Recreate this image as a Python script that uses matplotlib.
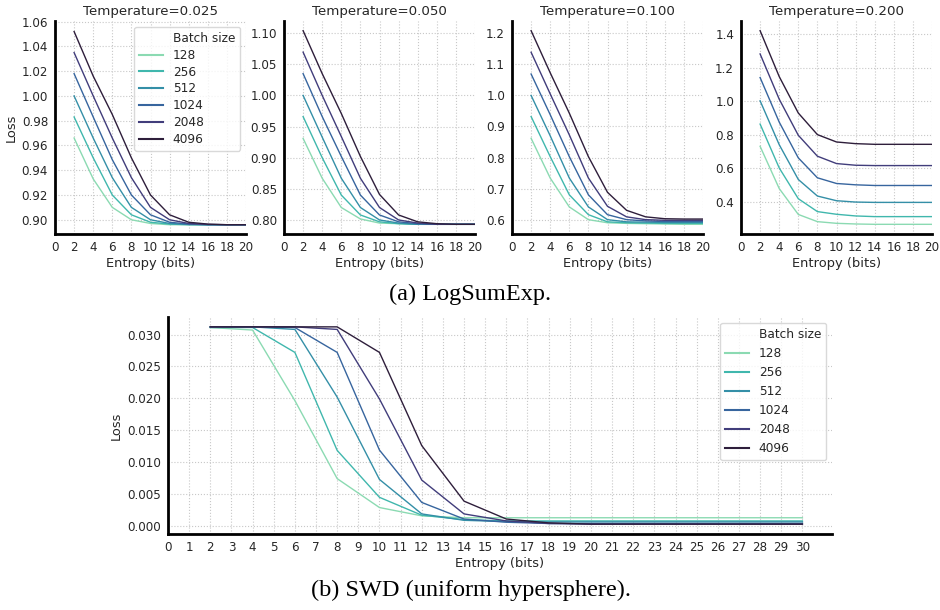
import matplotlib
matplotlib.use("Agg")
import matplotlib.pyplot as plt
from matplotlib.lines import Line2D
from matplotlib.ticker import MultipleLocator, FormatStrFormatter, FixedLocator
import seaborn as sns

# ---------------- data ----------------
batch_sizes = ["128", "256", "512", "1024", "2048", "4096"]
entropy_top = [2, 4, 6, 8, 10, 12, 14, 16, 18, 20]
temperatures = ["0.025", "0.050", "0.100", "0.200"]

loss_t0025 = [
    [0.966, 0.933, 0.910, 0.900, 0.897, 0.896, 0.896, 0.896, 0.896, 0.896],
    [0.983, 0.950, 0.920, 0.904, 0.898, 0.8965, 0.896, 0.896, 0.896, 0.896],
    [1.000, 0.966, 0.934, 0.910, 0.900, 0.897, 0.8962, 0.896, 0.896, 0.896],
    [1.018, 0.983, 0.9485, 0.920, 0.904, 0.898, 0.8965, 0.896, 0.896, 0.896],
    [1.035, 1.000, 0.966, 0.934, 0.910, 0.900, 0.897, 0.8962, 0.896, 0.896],
    [1.052, 1.016, 0.985, 0.950, 0.920, 0.904, 0.898, 0.8965, 0.896, 0.896],
]
loss_t0050 = [
    [0.931, 0.867, 0.820, 0.8016, 0.795, 0.794, 0.793, 0.793, 0.793, 0.793],
    [0.966, 0.900, 0.840, 0.808, 0.797, 0.794, 0.793, 0.793, 0.793, 0.793],
    [1.000, 0.933, 0.867, 0.820, 0.800, 0.795, 0.793, 0.793, 0.793, 0.793],
    [1.035, 0.966, 0.902, 0.840, 0.808, 0.797, 0.794, 0.793, 0.793, 0.793],
    [1.0695, 1.000, 0.934, 0.867, 0.820, 0.800, 0.795, 0.793, 0.793, 0.793],
    [1.104, 1.035, 0.971, 0.902, 0.841, 0.808, 0.797, 0.794, 0.793, 0.793],
]
loss_t0100 = [
    [0.862, 0.734, 0.641, 0.600, 0.590, 0.588, 0.587, 0.586, 0.585, 0.585],
    [0.932, 0.803, 0.680, 0.616, 0.593, 0.590, 0.589, 0.588, 0.588, 0.588],
    [1.000, 0.870, 0.734, 0.641, 0.600, 0.593, 0.592, 0.591, 0.591, 0.591],
    [1.069, 0.938, 0.803, 0.680, 0.616, 0.600, 0.596, 0.594, 0.594, 0.594],
    [1.139, 1.005, 0.873, 0.734, 0.643, 0.609, 0.600, 0.598, 0.598, 0.598],
    [1.2085, 1.073, 0.943, 0.803, 0.688, 0.630, 0.609, 0.603, 0.602, 0.602],
]
loss_t0200 = [
    [0.731, 0.479, 0.324, 0.281, 0.271, 0.267, 0.265, 0.265, 0.265, 0.265],
    [0.864, 0.602, 0.418, 0.341, 0.325, 0.315, 0.311, 0.311, 0.311, 0.311],
    [1.003, 0.741, 0.533, 0.434, 0.406, 0.398, 0.396, 0.396, 0.396, 0.396],
    [1.142, 0.876, 0.662, 0.543, 0.509, 0.501, 0.497, 0.497, 0.497, 0.497],
    [1.283, 1.013, 0.797, 0.672, 0.628, 0.618, 0.616, 0.616, 0.616, 0.616],
    [1.422, 1.148, 0.930, 0.801, 0.757, 0.747, 0.743, 0.743, 0.743, 0.743],
]
top_losses = [loss_t0025, loss_t0050, loss_t0100, loss_t0200]
top_ytick_steps = [0.02, 0.05, 0.1, 0.2]
top_ytick_fmt = ["%.2f", "%.2f", "%.1f", "%.1f"]

entropy_swd = [2, 4, 6, 8, 10, 12, 14, 16, 18, 20, 22, 24, 26, 28, 30]
swd_xticks = list(range(0, 31))
loss_swd = [
    [0.0311, 0.0307, 0.01965, 0.00743, 0.0029, 0.0016, 0.0013, 0.0013, 0.0013, 0.0013, 0.0013, 0.0013, 0.0013, 0.0013, 0.0013],
    [0.0311, 0.0311, 0.0272, 0.01185, 0.0045, 0.0017, 0.0010, 0.0008, 0.0008, 0.0008, 0.0008, 0.0008, 0.0008, 0.0008, 0.0008],
    [0.0312, 0.0312, 0.0308, 0.0202, 0.0073, 0.0019, 0.0009, 0.0007, 0.00065, 0.00065, 0.00065, 0.00065, 0.00065, 0.00065, 0.00065],
    [0.0312, 0.0312, 0.0311, 0.0272, 0.0119, 0.0037, 0.0011, 0.0006, 0.0004, 0.0004, 0.0004, 0.0004, 0.0004, 0.0004, 0.0004],
    [0.0312, 0.0312, 0.0312, 0.0308, 0.0199, 0.0072, 0.0019, 0.0008, 0.0004, 0.0003, 0.0003, 0.0003, 0.0003, 0.0003, 0.0003],
    [0.0312, 0.0312, 0.0312, 0.0312, 0.0272, 0.0126, 0.0039, 0.0011, 0.0005, 0.0003, 0.0003, 0.0003, 0.0003, 0.0003, 0.0003],
]

# ---------------- style ----------------
colors = sns.color_palette("mako_r", 6)
plt.rcParams["font.family"] = ["DejaVu Sans"]
TICK_FS = 8.6
LABEL_FS = 9.4
TITLE_FS = 9.6
LEG_FS = 8.7
TXT = "#262626"

W, H = 940, 610
fig = plt.figure(figsize=(W / 100, H / 100), dpi=100)


def px_axes(left, top, right, bottom):
    return fig.add_axes([left / W, 1 - bottom / H, (right - left) / W, (bottom - top) / H])


def style_axes(ax):
    for s in ["top", "right"]:
        ax.spines[s].set_visible(False)
    for s in ["left", "bottom"]:
        ax.spines[s].set_linewidth(2.0)
        ax.spines[s].set_color("black")
    ax.grid(True, linestyle=":", color="#c8c8c8", linewidth=0.8)
    ax.set_axisbelow(True)
    ax.tick_params(axis="both", length=0, pad=5, labelsize=TICK_FS, labelcolor=TXT)


def add_legend(ax, spacing):
    handles = [Line2D([], [], color="none", label="Batch size")]
    handles += [Line2D([], [], color=colors[i], lw=1.5, label=b) for i, b in enumerate(batch_sizes)]
    leg = ax.legend(handles=handles, loc="upper right", fontsize=LEG_FS, frameon=True,
                    fancybox=True, framealpha=0.8, edgecolor="#d0d0d0",
                    labelspacing=spacing)
    for t in leg.get_texts():
        t.set_color(TXT)
    return leg


top_lefts = [55, 284, 512, 741]
panel_w = 191
for k, (left, losses) in enumerate(zip(top_lefts, top_losses)):
    ax = px_axes(left, 21, left + panel_w, 234)
    style_axes(ax)
    for i, b in enumerate(batch_sizes):
        ax.plot(entropy_top, losses[i], color=colors[i], lw=1.0)
    ax.set_xlim(0, 20)
    if k == 0:
        ax.set_ylim(0.8885, 1.0605)
    ax.xaxis.set_major_locator(MultipleLocator(2))
    ax.yaxis.set_major_locator(MultipleLocator(top_ytick_steps[k]))
    ax.yaxis.set_major_formatter(FormatStrFormatter(top_ytick_fmt[k]))
    ax.set_title("Temperature=" + temperatures[k], fontsize=TITLE_FS, color=TXT, pad=4)
    ax.set_xlabel("Entropy (bits)", fontsize=LABEL_FS, color=TXT, labelpad=2)
    if k == 0:
        ax.set_ylabel("Loss", fontsize=LABEL_FS, color=TXT, labelpad=3)
        add_legend(ax, 0.32)

axb = px_axes(168, 317, 832, 534)
style_axes(axb)
for i, b in enumerate(batch_sizes):
    axb.plot(entropy_swd, loss_swd[i], color=colors[i], lw=1.0)
axb.set_xlim(0, 31.4)
axb.xaxis.set_major_locator(FixedLocator(swd_xticks))
axb.yaxis.set_major_locator(MultipleLocator(0.005))
axb.yaxis.set_major_formatter(FormatStrFormatter("%.3f"))
axb.set_xlabel("Entropy (bits)", fontsize=LABEL_FS, color=TXT, labelpad=2)
axb.set_ylabel("Loss", fontsize=LABEL_FS, color=TXT, labelpad=3)
add_legend(axb, 0.5)

fig.text(470 / W, 1 - 294 / H, "(a) LogSumExp.", ha="center", va="center",
         fontsize=17.5, family="Liberation Serif", color="black")
fig.text(471 / W, 1 - 590 / H, "(b) SWD (uniform hypersphere).", ha="center", va="center",
         fontsize=17.5, family="Liberation Serif", color="black")

fig.savefig("out.png", dpi=100)
